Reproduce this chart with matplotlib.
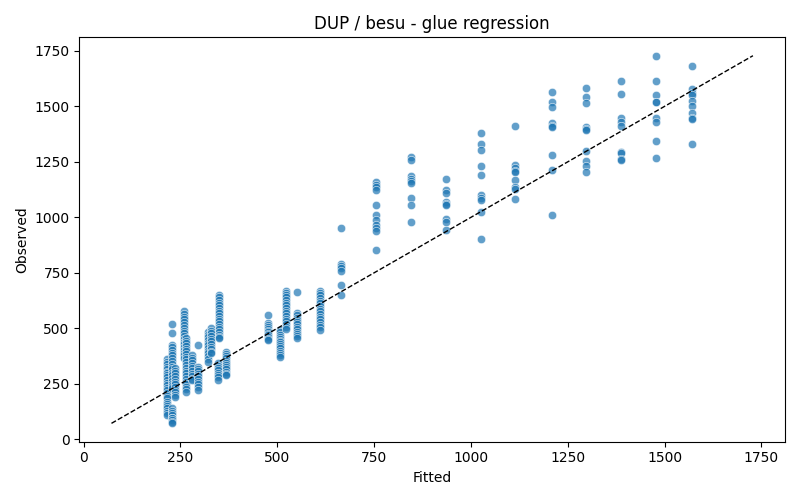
#%%
import numpy as np
import pandas as pd
import matplotlib
matplotlib.use("Agg")
import matplotlib.pyplot as plt

#%%
# observed values read off per fitted level (fitted values come in discrete steps)
obs_216 = [360, 350, 338, 326, 318, 305, 298, 290, 280, 268, 255, 245, 232, 220,
           208, 196, 185, 170, 160, 150, 140, 128, 118, 109]
obs_227 = [520, 478, 425, 415, 402, 390, 378, 365, 352, 340, 328, 315, 300, 288,
           275, 262, 250, 240, 229, 139, 128, 118, 108, 98, 95, 85, 78, 72]
obs_236 = [320, 310, 298, 285, 272, 260, 248, 236, 224, 212, 200, 191]
obs_260 = [576, 565, 552, 540, 528, 515, 503, 490, 478, 465, 452, 440, 428, 415,
           402, 390, 378, 365]
obs_264 = [457, 445, 432, 420, 408, 396, 384, 372, 360, 348, 336, 322, 310, 298,
           285, 272, 260, 248, 236, 225, 214]
obs_281 = [380, 368, 356, 344, 332, 320, 308, 296, 284, 272, 267]
obs_296 = [425, 328, 318, 306, 295, 284, 272, 260, 248, 236, 222]
obs_320 = [485, 472, 460, 448, 436, 424, 412, 400, 388, 376, 364, 350]
obs_329 = [500, 490, 478, 466, 454, 442, 430, 418, 406, 395, 388]
obs_346 = [342, 332, 322, 312, 300, 290, 280, 267]
obs_350 = [651, 640, 628, 616, 604, 592, 580, 568, 556, 544, 532, 520, 508, 496,
           484, 472, 460, 455]
obs_368 = [395, 385, 375, 365, 355, 345, 335, 325, 315, 305, 295, 290]
obs_477 = [561, 523, 515, 505, 497, 490, 482, 475, 468, 460, 452, 448]
obs_507 = [493, 482, 472, 462, 452, 442, 438, 430, 420, 410, 400, 390, 380, 370]
obs_523 = [666, 659, 651, 640, 628, 616, 604, 592, 580, 568, 556, 544, 532, 520,
           508, 496]
obs_552 = [663, 568, 558, 548, 538, 528, 518, 505, 495, 485, 475, 465, 455]
obs_611 = [666, 657, 648, 636, 624, 612, 600, 588, 576, 564, 552, 540, 528, 516,
           504, 493]
obs_665 = [950, 790, 780, 770, 757, 696, 651]
obs_755 = [1159, 1147, 1135, 1122, 1054, 1009, 987, 965, 953, 938, 855]
obs_845 = [1270, 1257, 1186, 1174, 1165, 1156, 1088, 1054, 980]
obs_935 = [1174, 1122, 1111, 1069, 1058, 1054, 994, 978, 941]
obs_1025 = [1382, 1330, 1304, 1229, 1190, 1099, 1086, 1077, 1025, 904]
obs_1115 = [1410, 1236, 1222, 1210, 1204, 1167, 1137, 1126, 1081]
obs_1208 = [1563, 1518, 1496, 1425, 1412, 1408, 1280, 1212, 1009]
obs_1298 = [1582, 1541, 1515, 1405, 1397, 1392, 1297, 1254, 1229, 1206]
obs_1388 = [1613, 1556, 1447, 1431, 1410, 1295, 1290, 1262, 1260]
obs_1478 = [1728, 1613, 1551, 1521, 1518, 1447, 1428, 1346, 1265]
obs_1570 = [1681, 1578, 1560, 1551, 1526, 1503, 1470, 1447, 1441, 1330]

fitted_levels = [216, 227, 236, 260, 264, 281, 296, 320, 329, 346, 350, 368,
                 477, 507, 523, 552, 611, 665, 755, 845, 935, 1025, 1115, 1208,
                 1298, 1388, 1478, 1570]
observed_sets = [obs_216, obs_227, obs_236, obs_260, obs_264, obs_281, obs_296,
                 obs_320, obs_329, obs_346, obs_350, obs_368, obs_477, obs_507,
                 obs_523, obs_552, obs_611, obs_665, obs_755, obs_845, obs_935,
                 obs_1025, obs_1115, obs_1208, obs_1298, obs_1388, obs_1478,
                 obs_1570]

#%%
df = pd.concat([pd.DataFrame({"Fitted": f, "Observed": o})
                for f, o in zip(fitted_levels, observed_sets)])

fig, ax = plt.subplots(figsize=(8, 5), dpi=100)
ax.scatter(df["Fitted"], df["Observed"], s=36, color="tab:blue", alpha=0.7,
           edgecolor="white", linewidth=0.5)
lo = df["Observed"].min()
hi = df["Observed"].max()
ax.plot([lo, hi], [lo, hi], "k--", linewidth=1)
ax.set_xlabel("Fitted")
ax.set_ylabel("Observed")
ax.set_title("DUP / besu - glue regression")
fig.tight_layout()
fig.savefig("out.png", dpi=100)
